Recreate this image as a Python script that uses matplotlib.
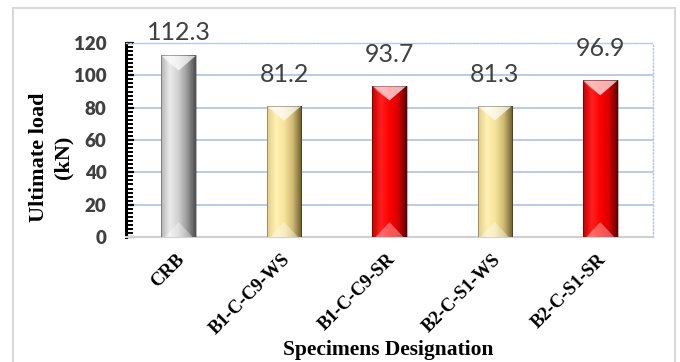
import matplotlib
matplotlib.use("Agg")
import matplotlib.pyplot as plt
import matplotlib.transforms as mtransforms
from matplotlib.colors import LinearSegmentedColormap
from matplotlib.patches import Polygon, Rectangle
from matplotlib.ticker import MultipleLocator
import numpy as np

# Ultimate load of each specimen
specimens = ["CRB", "B1-C-C9-WS", "B1-C-C9-SR", "B2-C-S1-WS", "B2-C-S1-SR"]
ultimate_load = [112.3, 81.2, 93.7, 81.3, 96.9]
bar_kind = ["gray", "yellow", "red", "yellow", "red"]

# left -> right shading across each bar
shades = {
    "gray": ["#b4b4b4", "#ececec", "#d0d0d0", "#9a9a9a", "#4e4e4e"],
    "yellow": ["#e2cc86", "#fff2b4", "#f6e39c", "#cdb871", "#6b5d2e"],
    "red": ["#c40000", "#ff2020", "#ff0000", "#d80000", "#5c0000"],
}
base = {"gray": "#c8c8c8", "yellow": "#f5e29a", "red": "#ff0000"}

fig = plt.figure(figsize=(6.8, 3.62), dpi=100)
ax = fig.add_axes([126 / 680, 1 - 237 / 362, 527 / 680, 194 / 362])

x = np.arange(len(specimens))
bars = ax.bar(x, ultimate_load, width=0.33, color=[base[k] for k in bar_kind],
              edgecolor="none", zorder=3)

ax.set_xlim(-0.5, len(specimens) - 0.5)
ax.set_ylim(0, 120)
ax.yaxis.set_major_locator(MultipleLocator(20))
ax.yaxis.set_minor_locator(MultipleLocator(2.5))

# pixel -> data unit conversion on the y axis
p0 = ax.transData.transform((0, 0))
p1 = ax.transData.transform((0, 1))
px = 1 / (p1[1] - p0[1])
bev = 15 * px

for bar, kind in zip(bars, bar_kind):
    x0, w, h = bar.get_x(), bar.get_width(), bar.get_height()
    x1, xc = x0 + w, x0 + w / 2
    cmap = LinearSegmentedColormap.from_list(kind, shades[kind])
    grad = np.linspace(0, 1, 64).reshape(1, -1)
    im = ax.imshow(grad, cmap=cmap, aspect="auto", extent=(x0, x1, 0, h),
                   zorder=4, interpolation="bicubic")
    im.set_clip_path(bar)
    # top chamfer
    ax.add_patch(Polygon([(x0, h), (x1, h), (xc, h - bev)], closed=True,
                         facecolor="white", alpha=0.7, edgecolor="none", zorder=5))
    ax.add_patch(Polygon([(x0, h), (x0 + w * 0.12, h - bev * 0.35), (xc, h - bev)],
                         closed=True, facecolor="white", alpha=0.25,
                         edgecolor="none", zorder=5))
    # bottom chamfer
    ax.add_patch(Polygon([(x0 + w * 0.1, 0), (x1 - w * 0.1, 0), (xc, bev)], closed=True,
                         facecolor="white", alpha=0.35, edgecolor="none", zorder=5))
    ax.add_patch(Rectangle((x0, 0), w, h, fill=False, edgecolor="black",
                           lw=0.6, alpha=0.35, zorder=6))
    # value label, kept just above the plot area when the bar is tall
    ly = min(h + 24 * px, 120 + 3 * px)
    ax.text(xc, ly, f"{h:.1f}", ha="center", va="baseline", fontsize=18,
            family="Lato", color="#404040", zorder=7, clip_on=False)

# horizontal gridlines
for yv in ax.get_yticks()[1:-1]:
    ax.axhline(yv, color="#b4c7e7", lw=1.3, zorder=1)

for side in ["top", "right"]:
    ax.spines[side].set_linestyle((0, (1, 1.5)))
    ax.spines[side].set_color("#b4c7e7")
    ax.spines[side].set_linewidth(1.0)
ax.spines["bottom"].set_color("#d0d0d0")
ax.spines["bottom"].set_linewidth(1.5)
ax.spines["left"].set_color("black")
ax.spines["left"].set_linewidth(2.2)

ax.tick_params(axis="y", which="major", direction="in", length=6, width=1.6,
               pad=14, labelsize=13.5, labelcolor="#404040")
ax.tick_params(axis="y", which="minor", direction="in", length=5, width=1.4)
for lab in ax.get_yticklabels():
    lab.set_family("Lato")
    lab.set_weight("heavy")

ax.set_xticks(x)
ax.set_xticklabels(specimens, rotation=45, ha="right", va="top",
                   rotation_mode="anchor", fontsize=13.5, family="Liberation Serif",
                   weight="bold")
ax.tick_params(axis="x", length=0, pad=10)
shift = mtransforms.ScaledTranslation(-3 / 100, 0, fig.dpi_scale_trans)
for lab in ax.get_xticklabels():
    lab.set_transform(lab.get_transform() + shift)

ax.set_ylabel("Ultimate load\n(kN)", fontsize=16, family="Liberation Serif",
              weight="bold", linespacing=1.3)
ax.yaxis.set_label_coords(-0.100, 0.41)
fig.text(388 / 680, 1 - 355 / 362, "Specimens Designation", ha="center",
         va="baseline", fontsize=15.5, family="Liberation Serif", weight="bold")

# outer chart frame
fig.patches.append(Rectangle((13 / 680, -0.1), 662 / 680, 1.1 - 8 / 362,
                             transform=fig.transFigure, fill=False,
                             edgecolor="#d9d9d9", lw=1.5))

fig.savefig("out.png", dpi=100)
